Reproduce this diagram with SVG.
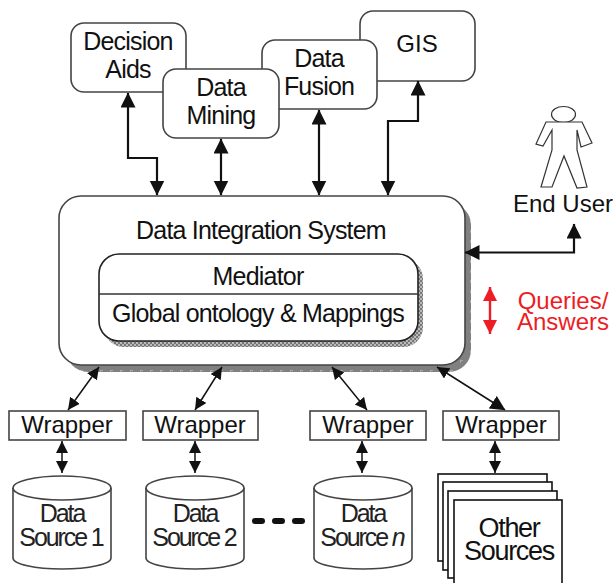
<svg xmlns="http://www.w3.org/2000/svg" width="614" height="583" viewBox="0 0 614 583">
<style>
text{font-family:"Liberation Sans",Arial,sans-serif;fill:#111;text-anchor:middle}
.b{fill:#fff;stroke:#444;stroke-width:1.6}
.t{font-size:25px;letter-spacing:-.8px}
.w{font-size:24px}
.d{font-size:25px;letter-spacing:-2.1px;fill:#222}
.o{font-size:27px;letter-spacing:-1.3px}
.c{fill:none;stroke:#111;stroke-width:2.2}
.c2{fill:none;stroke:#111;stroke-width:1.5}
.r{fill:#ee1c25;font-size:24px}
.p{fill:#fff;stroke:#111;stroke-width:1.6}
</style>
<defs>
<marker id="a" markerUnits="userSpaceOnUse" markerWidth="16" markerHeight="16" refX="14.5" refY="7.5" orient="auto-start-reverse"><path d="M0 0L15 7.5L0 15Z" fill="#111"/></marker>
<marker id="s" markerUnits="userSpaceOnUse" markerWidth="14" markerHeight="14" refX="12" refY="6" orient="auto-start-reverse"><path d="M0 0L12 6L0 12Z" fill="#111"/></marker>
<marker id="ra" markerUnits="userSpaceOnUse" markerWidth="16" markerHeight="16" refX="14" refY="7" orient="auto-start-reverse"><path d="M0 0L14 7L0 14Z" fill="#ee1c25"/></marker>
<pattern id="tick" width="10" height="10" patternUnits="userSpaceOnUse"><rect width="10" height="10" fill="#808080"/><path d="M0 0.5H3M0.5 0V3" stroke="#a8a8a8" stroke-width="1"/></pattern>
<pattern id="stip" width="4" height="4" patternUnits="userSpaceOnUse"><rect width="4" height="4" fill="#bbb"/><path d="M0 0h2v2H0zM2 2h2v2H2z" fill="#777"/></pattern>
<symbol id="cyl" overflow="visible"><path class="b" d="M0 13V83A49 11 0 0 0 98 83V13"/><ellipse class="b" cx="49" cy="13" rx="49" ry="12"/></symbol>
</defs>

<g id="gis"><rect class="b" x="360" y="11" width="115" height="70" rx="13"/><text class="w" x="417" y="52">GIS</text></g>
<g id="data-fusion"><rect class="b" x="262" y="40" width="115" height="69" rx="13"/><text class="t" x="319" y="67">Data</text><text class="t" x="319" y="95">Fusion</text></g>
<g id="decision-aids"><rect class="b" x="71" y="23" width="115" height="69" rx="13"/><text class="t" x="128" y="50">Decision</text><text class="t" x="128" y="78">Aids</text></g>
<g id="data-mining"><rect class="b" x="163" y="69" width="116" height="69" rx="13"/><text class="t" x="221" y="96">Data</text><text class="t" x="221" y="124">Mining</text></g>

<g id="data-integration-system">
<rect x="66" y="203" width="405" height="169" rx="22" fill="url(#tick)"/>
<rect class="b" x="59" y="196" width="406" height="169" rx="22" stroke-width="2"/>
<text class="t" x="261" y="239">Data Integration System</text>
</g>
<g id="mediator">
<rect x="104" y="259" width="319" height="88" rx="20" fill="url(#stip)"/>
<rect x="99" y="254" width="319" height="87" rx="20" fill="#fff" stroke="#222" stroke-width="1.6"/>
<path d="M99 294H418" stroke="#333" stroke-width="1.6"/>
<text class="t" x="258" y="285">Mediator</text>
<text class="t" x="258" y="322">Global ontology &amp; Mappings</text>
</g>

<g id="end-user">
<ellipse cx="563.500" cy="114.500" rx="12" ry="8" fill="#fff" stroke="#333" stroke-width="1.2"/>
<path d="M546 122H582L592 143L581 147L577 130L577 150L587 187L577 188L564 156L552 187L541 187L552 150L552 130L543 146L536 144Z" fill="#fff" stroke="#333" stroke-width="1.2"/>
<text class="w" x="563" y="212">End User</text>
</g>

<g id="connectors">
<path class="c" d="M128 93V158H157V195" marker-start="url(#a)" marker-end="url(#a)"/>
<path class="c" d="M221 139V195" marker-start="url(#a)" marker-end="url(#a)"/>
<path class="c" d="M319 110V195" marker-start="url(#a)" marker-end="url(#a)"/>
<path class="c" d="M418 81V121H388V195" marker-start="url(#a)" marker-end="url(#a)"/>
<path class="c" d="M465 252.500H574V224" marker-start="url(#a)" marker-end="url(#a)"/>
<path class="c2" d="M68 410L99 367" marker-start="url(#s)" marker-end="url(#s)"/>
<path class="c2" d="M195 410L222 367" marker-start="url(#s)" marker-end="url(#s)"/>
<path class="c2" d="M367 410L332 367" marker-start="url(#s)" marker-end="url(#s)"/>
<path class="c2" d="M505 410L437 367" marker-start="url(#a)" marker-end="url(#s)"/>
<path class="c2" d="M62 441V473" marker-start="url(#s)" marker-end="url(#s)"/>
<path class="c2" d="M195 441V473" marker-start="url(#s)" marker-end="url(#s)"/>
<path class="c2" d="M362 441V473" marker-start="url(#s)" marker-end="url(#s)"/>
<path class="c2" d="M495 441V473" marker-start="url(#s)" marker-end="url(#s)"/>
</g>

<g id="queries-answers">
<path d="M490 287V334" fill="none" stroke="#ee1c25" stroke-width="2.4" marker-start="url(#ra)" marker-end="url(#ra)"/>
<text class="r" x="563" y="309">Queries/</text>
<text class="r" x="563" y="330">Answers</text>
</g>

<g id="wrapper-1"><rect class="b" x="9" y="411" width="117" height="29"/><text class="w" x="67" y="433">Wrapper</text></g>
<g id="wrapper-2"><rect class="b" x="143" y="411" width="115" height="29"/><text class="w" x="200" y="433">Wrapper</text></g>
<g id="wrapper-3"><rect class="b" x="310" y="411" width="116" height="29"/><text class="w" x="368" y="433">Wrapper</text></g>
<g id="wrapper-4"><rect class="b" x="443" y="411" width="116" height="29"/><text class="w" x="501" y="433">Wrapper</text></g>

<g id="source-1"><use href="#cyl" x="13" y="475"/><text class="d" x="62" y="522">Data</text><text class="d" x="61" y="546">Source 1</text></g>
<g id="source-2"><use href="#cyl" x="146" y="475"/><text class="d" x="195" y="522">Data</text><text class="d" x="194" y="546">Source 2</text></g>
<g id="source-n"><use href="#cyl" x="314" y="475"/><text class="d" x="363" y="522">Data</text><text class="d" x="362" y="546">Source <tspan font-style="italic">n</tspan></text></g>
<g id="ellipsis"><path d="M255 521H302" stroke="#111" stroke-width="6" stroke-dasharray="7 13" stroke-linecap="round"/></g>
<g id="other-sources">
<rect class="p" x="438" y="474" width="109" height="87"/>
<rect class="p" x="443" y="482" width="109" height="88"/>
<rect class="p" x="448" y="491" width="109" height="87"/>
<rect class="p" x="454" y="500" width="108" height="90"/>
<text class="o" x="509" y="537">Other</text>
<text class="o" x="509" y="560">Sources</text>
</g>
</svg>
